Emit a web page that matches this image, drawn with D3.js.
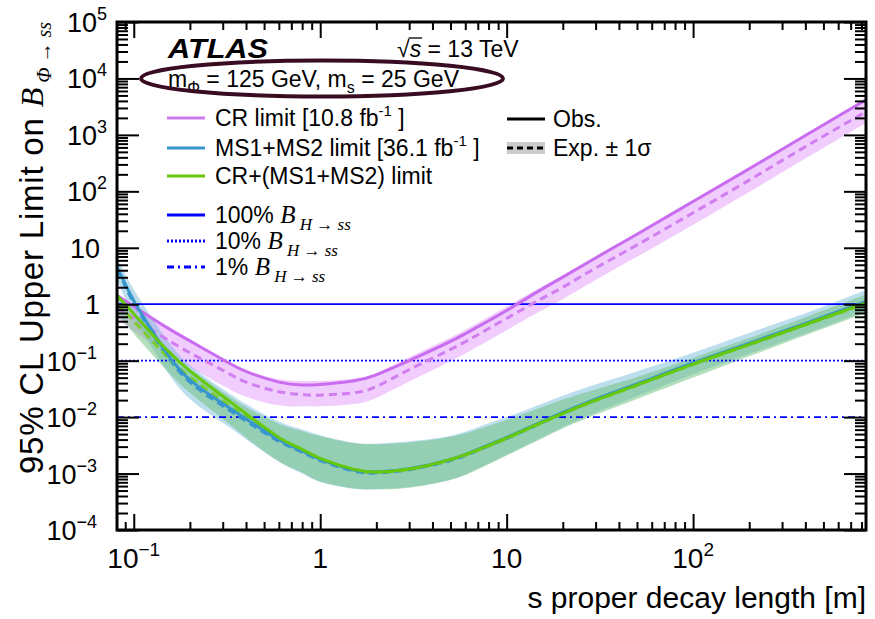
<!doctype html>
<html lang="en">
<head>
<meta charset="utf-8">
<title>Upper limit vs proper decay length</title>
<style>
  body { margin: 0; background: #fff; }
  text { font-family: "Liberation Sans", Arial, Helvetica, sans-serif; fill: #000; }
  .serif { font-family: "Liberation Serif", "DejaVu Serif", serif; font-style: italic; }
</style>
</head>
<body>
<svg id="chart" width="875" height="619"></svg>

<script src="https://d3js.org/d3.v7.min.js"></script>
<script>
// s proper decay length [m]
const decayLength = [0.0813, 0.09, 0.1, 0.12, 0.15, 0.2, 0.3, 0.4, 0.6, 0.8, 1, 1.5, 2, 3, 5, 7, 10, 15, 20, 30, 50, 100, 200, 400, 846];

// CR limit [10.8 fb-1]
const crObs = [1.45, 1.15, 0.912, 0.617, 0.389, 0.224, 0.105, 0.0646, 0.0417, 0.0372, 0.038, 0.0437, 0.0562, 0.1, 0.219, 0.398, 0.776, 1.74, 3.02, 6.61, 17.4, 66.1, 251, 977, 4170];
const crExp = [0.891, 0.708, 0.562, 0.38, 0.24, 0.138, 0.0676, 0.0417, 0.0282, 0.0251, 0.0245, 0.0269, 0.0347, 0.0692, 0.158, 0.288, 0.562, 1.2, 2.0, 4.37, 11.2, 41.7, 158, 617, 2570];
const crHi = [1.41, 1.12, 0.891, 0.603, 0.38, 0.219, 0.107, 0.0676, 0.0468, 0.0437, 0.0437, 0.0479, 0.0603, 0.115, 0.257, 0.468, 0.912, 1.95, 3.24, 7.08, 18.2, 67.6, 257, 1000, 4170];
const crLo = [0.537, 0.427, 0.331, 0.219, 0.132, 0.0759, 0.0363, 0.0229, 0.0162, 0.0155, 0.0155, 0.017, 0.0219, 0.0427, 0.0977, 0.178, 0.347, 0.741, 1.23, 2.69, 6.92, 25.7, 97.7, 380, 1620];

// MS1+MS2 limit [36.1 fb-1]
const msObs = [4.57, 2.29, 1.15, 0.427, 0.138, 0.0457, 0.0174, 0.00933, 0.00398, 0.00251, 0.00178, 0.00117, 0.00107, 0.00122, 0.00178, 0.00269, 0.00437, 0.00794, 0.0121, 0.0209, 0.0389, 0.0912, 0.204, 0.457, 1.12];
const msExp = [4.17, 2.09, 1.05, 0.389, 0.126, 0.0417, 0.0158, 0.00851, 0.00372, 0.0024, 0.0017, 0.00112, 0.00102, 0.00117, 0.0017, 0.00257, 0.00417, 0.00759, 0.0115, 0.0199, 0.0372, 0.0871, 0.195, 0.437, 1.07];
const msHi = [6.61, 3.47, 1.82, 0.708, 0.24, 0.0832, 0.0316, 0.017, 0.00832, 0.00603, 0.00479, 0.00355, 0.00339, 0.00372, 0.00468, 0.00661, 0.0100, 0.0166, 0.0240, 0.0380, 0.0646, 0.138, 0.309, 0.692, 1.78];
const msLo = [2.63, 1.26, 0.603, 0.214, 0.0661, 0.0209, 0.00794, 0.00407, 0.00162, 0.001, 0.000708, 0.000537, 0.000525, 0.000575, 0.000776, 0.00123, 0.00214, 0.00417, 0.00661, 0.0120, 0.0234, 0.0575, 0.132, 0.302, 0.759];

// CR+(MS1+MS2) limit
const combObs = [1.41, 1.0, 0.676, 0.347, 0.158, 0.0661, 0.0234, 0.0115, 0.00437, 0.00269, 0.00186, 0.0012, 0.00107, 0.0012, 0.00178, 0.00263, 0.00427, 0.00776, 0.0117, 0.02, 0.0372, 0.0871, 0.195, 0.437, 1.05];
const combExp = [1.0, 0.741, 0.501, 0.263, 0.12, 0.0513, 0.0195, 0.01, 0.00417, 0.00263, 0.00182, 0.00117, 0.00105, 0.00117, 0.00174, 0.00257, 0.00417, 0.00759, 0.0115, 0.0195, 0.0363, 0.0851, 0.191, 0.427, 1.02];
const combHi = [1.32, 1.0, 0.692, 0.372, 0.17, 0.0724, 0.0282, 0.0151, 0.00759, 0.00562, 0.00457, 0.00347, 0.00331, 0.00355, 0.00447, 0.00603, 0.00891, 0.0145, 0.0204, 0.0309, 0.0513, 0.112, 0.251, 0.589, 1.48];
const combLo = [0.631, 0.457, 0.302, 0.151, 0.0676, 0.0269, 0.00933, 0.00437, 0.00166, 0.00105, 0.000724, 0.00055, 0.000525, 0.000562, 0.000776, 0.00118, 0.00209, 0.00398, 0.00631, 0.011, 0.0209, 0.0501, 0.12, 0.282, 0.708];

// 100%, 10%, 1% of B(H -> ss)
const refLevels = [1, 0.1, 0.01];

const xMajor = [0.1, 1, 10, 100];
const yMajor = [1e-4, 1e-3, 1e-2, 1e-1, 1, 10, 1e2, 1e3, 1e4, 1e5];

const svg = d3.select('#chart');
const margin = { top: 22, right: 9, bottom: 89, left: 117 };
const width = 875 - margin.left - margin.right;
const height = 619 - margin.top - margin.bottom;
const g = svg.append('g')
  .attr('transform', `translate(${margin.left} ${margin.top})`);

const x = d3.scaleLog().domain([0.0813, 846]).range([0, width]);
const y = d3.scaleLog().domain([1e-4, 1e5]).range([height, 0]);

svg.append('defs').append('clipPath').attr('id', 'plotclip')
  .append('rect').attr('width', width).attr('height', height);
const plot = g.append('g').attr('clip-path', 'url(#plotclip)');

const rows = (obs, exp, hi, lo) => decayLength.map((d, i) => ({ x: d, obs: obs[i], exp: exp[i], hi: hi[i], lo: lo[i] }));
const cr = rows(crObs, crExp, crHi, crLo);
const ms = rows(msObs, msExp, msHi, msLo);
const comb = rows(combObs, combExp, combHi, combLo);

const band = d3.area().curve(d3.curveNatural)
  .x(d => x(d.x)).y0(d => y(d.lo)).y1(d => y(d.hi));
const obsLine = d3.line().curve(d3.curveNatural).x(d => x(d.x)).y(d => y(d.obs));
const expLine = d3.line().curve(d3.curveNatural).x(d => x(d.x)).y(d => y(d.exp));

// bands
plot.append('path').datum(cr).attr('d', band).attr('fill', '#f0cdfc');
plot.append('path').datum(ms).attr('d', band).attr('fill', '#6bb6d6').attr('fill-opacity', 0.45);
plot.append('path').datum(comb).attr('d', band).attr('fill', '#6cc07a').attr('fill-opacity', 0.5);

// reference lines
const refDash = [null, '2,2', '7,4,2,4'];
plot.selectAll('.ref').data(refLevels).enter().append('line')
  .attr('x1', 0).attr('x2', width)
  .attr('y1', d => y(d)).attr('y2', d => y(d))
  .attr('stroke', '#0000ff').attr('stroke-width', 1.8)
  .attr('stroke-dasharray', (d, i) => refDash[i]);

// expected
plot.append('path').datum(cr).attr('d', expLine).attr('fill', 'none')
  .attr('stroke', '#d07ef0').attr('stroke-width', 3).attr('stroke-dasharray', '8,5');
plot.append('path').datum(ms).attr('d', expLine).attr('fill', 'none')
  .attr('stroke', '#3796cc').attr('stroke-width', 3).attr('stroke-dasharray', '8,5');
plot.append('path').datum(comb).attr('d', expLine).attr('fill', 'none')
  .attr('stroke', '#7acc2a').attr('stroke-width', 3).attr('stroke-dasharray', '8,5');

// observed
plot.append('path').datum(cr).attr('d', obsLine).attr('fill', 'none')
  .attr('stroke', '#c96cf0').attr('stroke-width', 3);
plot.append('path').datum(ms).attr('d', obsLine).attr('fill', 'none')
  .attr('stroke', '#3796cc').attr('stroke-width', 3);
plot.append('path').datum(comb).attr('d', obsLine).attr('fill', 'none')
  .attr('stroke', '#66c80a').attr('stroke-width', 3);

// ticks
function minors(scale) {
  const [a, b] = scale.domain();
  const out = [];
  for (let e = Math.floor(Math.log10(a)); e <= Math.ceil(Math.log10(b)); e++) {
    for (let k = 2; k <= 9; k++) {
      const v = k * Math.pow(10, e);
      if (v > a && v < b) out.push(v);
    }
  }
  return out;
}
function tickAxis(axis, transform) {
  g.append('g').attr('transform', transform).call(axis)
    .call(s => s.select('.domain').remove())
    .call(s => s.selectAll('line').attr('stroke', '#000').attr('stroke-width', 2));
}
tickAxis(d3.axisBottom(x).tickValues(xMajor).tickSize(-16).tickFormat(''), `translate(0 ${height})`);
tickAxis(d3.axisBottom(x).tickValues(minors(x)).tickSize(-8).tickFormat(''), `translate(0 ${height})`);
tickAxis(d3.axisTop(x).tickValues(xMajor).tickSize(-16).tickFormat(''), 'translate(0 0)');
tickAxis(d3.axisTop(x).tickValues(minors(x)).tickSize(-8).tickFormat(''), 'translate(0 0)');
tickAxis(d3.axisLeft(y).tickValues(yMajor).tickSize(-22).tickFormat(''), 'translate(0 0)');
tickAxis(d3.axisLeft(y).tickValues(minors(y)).tickSize(-11).tickFormat(''), 'translate(0 0)');
tickAxis(d3.axisRight(y).tickValues(yMajor).tickSize(-22).tickFormat(''), `translate(${width} 0)`);
tickAxis(d3.axisRight(y).tickValues(minors(y)).tickSize(-11).tickFormat(''), `translate(${width} 0)`);

g.append('rect').attr('width', width).attr('height', height)
  .attr('fill', 'none').attr('stroke', '#000').attr('stroke-width', 3);

// tick labels
function powLabel(sel, v, sup) {
  const e = Math.round(Math.log10(v));
  if (e === 0) { sel.text('1'); return; }
  if (e === 1) { sel.text('10'); return; }
  sel.append('tspan').text('10');
  sel.append('tspan').attr('dy', -12).attr('font-size', sup).text(e < 0 ? '\u2212' + (-e) : String(e));
}
yMajor.forEach(v => {
  const e = Math.round(Math.log10(v));
  const right = e > 1 ? -10 : (e < 0 ? -20 : -17);
  const t = g.append('text').attr('x', right).attr('y', y(v) + 10)
    .attr('text-anchor', 'end').attr('font-size', 27);
  powLabel(t, v, 18);
});
xMajor.forEach(v => {
  const t = g.append('text').attr('x', x(v)).attr('y', height + 38)
    .attr('text-anchor', 'middle').attr('font-size', 28);
  powLabel(t, v, 19);
});

// axis titles
svg.append('text').attr('x', 866).attr('y', 608).attr('text-anchor', 'end')
  .attr('font-size', 30).text('s proper decay length [m]');

const yt = svg.append('text').attr('transform', 'translate(43 22) rotate(-90)')
  .attr('text-anchor', 'end').attr('font-size', 33);
yt.append('tspan').attr('letter-spacing', 0.8).text('95% CL Upper Limit on ');
yt.append('tspan').attr('class', 'serif').attr('font-size', 32).text('B');
yt.append('tspan').attr('class', 'serif').attr('font-size', 20).attr('dy', 8).text(' \u03A6 \u2192 ss');

// header
svg.append('text').attr('x', 168).attr('y', 58).attr('font-size', 28)
  .attr('font-weight', 'bold').attr('font-style', 'italic')
  .attr('textLength', 100).attr('lengthAdjust', 'spacingAndGlyphs').text('ATLAS');

const sq = svg.append('text').attr('x', 397).attr('y', 57).attr('font-size', 23);
sq.append('tspan').text('\u221A');
sq.append('tspan').attr('font-style', 'italic').text('s');
sq.append('tspan').text(' = 13 TeV');
const sqW = sq.node().getSubStringLength(0, 1);
const sW = sq.node().getSubStringLength(1, 1);
svg.append('line').attr('x1', 397 + sqW - 1).attr('x2', 397 + sqW + sW + 1)
  .attr('y1', 38).attr('y2', 38).attr('stroke', '#000').attr('stroke-width', 1.3);

const mt = svg.append('text').attr('x', 168).attr('y', 87).attr('font-size', 23);
mt.append('tspan').text('m');
mt.append('tspan').attr('font-size', 16).attr('dy', 6).text('\u03A6');
mt.append('tspan').attr('dy', -6).text(' = 125 GeV, m');
mt.append('tspan').attr('font-size', 16).attr('dy', 6).text('s');
mt.append('tspan').attr('dy', -6).text(' = 25 GeV');

svg.append('ellipse').attr('cx', 322).attr('cy', 78.5).attr('rx', 181).attr('ry', 18)
  .attr('fill', 'none').attr('stroke', '#3a0c22').attr('stroke-width', 4);

// legend
const legend = svg.append('g');
const entries = [
  { y: 118, color: '#cc7cf0', label: ['CR limit [10.8 fb', '-1', ' ]'] },
  { y: 148, color: '#3796cc', label: ['MS1+MS2 limit [36.1 fb', '-1', ' ]'] },
  { y: 176, color: '#66c80a', label: ['CR+(MS1+MS2) limit'] },
];
entries.forEach(d => {
  legend.append('line').attr('x1', 167).attr('x2', 205).attr('y1', d.y).attr('y2', d.y)
    .attr('stroke', d.color).attr('stroke-width', 3);
  const t = legend.append('text').attr('x', 215).attr('y', d.y + 8).attr('font-size', 23);
  t.append('tspan').text(d.label[0]);
  if (d.label.length > 1) {
    t.append('tspan').attr('font-size', 15).attr('dy', -10).text(d.label[1]);
    t.append('tspan').attr('dy', 10).text(d.label[2]);
  }
});
const refNames = ['100% ', '10% ', '1% '];
[215, 241, 267].forEach((ly, i) => {
  legend.append('line').attr('x1', 167).attr('x2', 205).attr('y1', ly).attr('y2', ly)
    .attr('stroke', '#0000ff').attr('stroke-width', 3).attr('stroke-dasharray', refDash[i]);
  const t = legend.append('text').attr('x', 215).attr('y', ly + 8).attr('font-size', 23);
  t.append('tspan').text(refNames[i]);
  t.append('tspan').attr('class', 'serif').attr('font-size', 25).text('B');
  t.append('tspan').attr('class', 'serif').attr('font-size', 17).attr('dy', 7).text(' H \u2192 ss');
});

legend.append('line').attr('x1', 507).attr('x2', 545).attr('y1', 119).attr('y2', 119)
  .attr('stroke', '#000').attr('stroke-width', 3);
legend.append('text').attr('x', 553).attr('y', 127).attr('font-size', 23).text('Obs.');
legend.append('rect').attr('x', 507).attr('y', 142).attr('width', 38).attr('height', 12).attr('fill', '#cccccc');
legend.append('line').attr('x1', 507).attr('x2', 545).attr('y1', 148).attr('y2', 148)
  .attr('stroke', '#000').attr('stroke-width', 3).attr('stroke-dasharray', '6,4');
legend.append('text').attr('x', 553).attr('y', 156).attr('font-size', 23).text('Exp. \u00B1 1\u03C3');
</script>
</body>
</html>
